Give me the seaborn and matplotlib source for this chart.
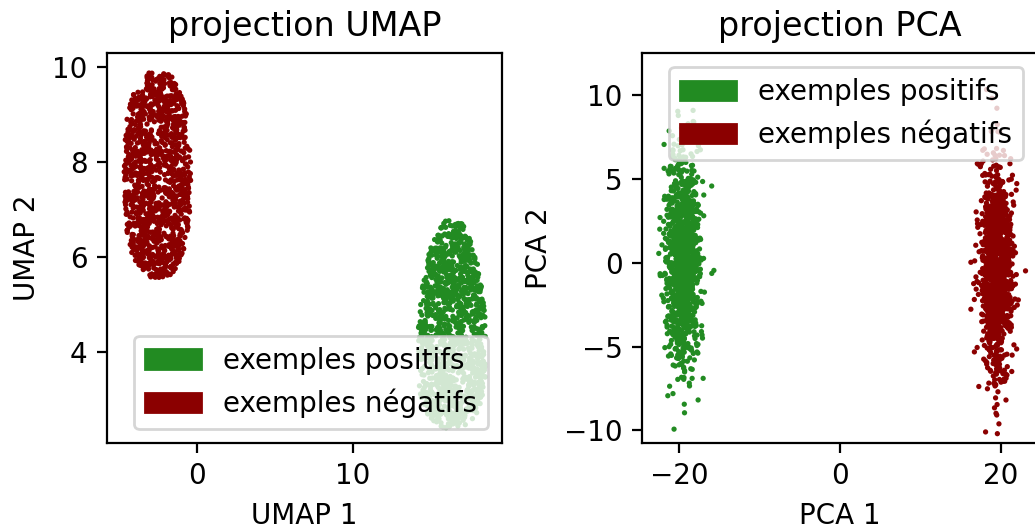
import numpy as np
import pandas as pd
import matplotlib
matplotlib.use("Agg")
import matplotlib.pyplot as plt
import matplotlib.patches as mpatches
import seaborn as sns

# Classes et couleurs
classes = ["exemples positifs", "exemples négatifs"]
couleurs = ["forestgreen", "darkred"]
n_points = [1200, 1200]

# Nuages UMAP : centre, demi-largeur, demi-hauteur, rétrécissement en haut
umap_centre_x = [16.35, -2.55]
umap_centre_y = [4.6, 7.72]
umap_demi_x = [2.15, 2.15]
umap_demi_y = [2.2, 2.2]
umap_retrecissement = [0.25, 0.0]

# Nuages PCA : moyenne et écart-type
pca_moy_x = [-19.6, 19.5]
pca_moy_y = [0.2, -0.3]
pca_sd_x = [1.0, 1.0]
pca_sd_y = [3.1, 3.0]

# Limites des axes
umap_xlim = (-5.77, 19.55)
umap_ylim = (2.09, 10.29)
pca_xlim = (-24.65, 24.5)
pca_ylim = (-10.76, 12.53)

rng = np.random.default_rng(7)


def nuage_umap(cx, cy, ax_, ay_, taper, n):
    pts = []
    while len(pts) < n:
        u = rng.uniform(-1, 1, 4 * n)
        v = rng.uniform(-1, 1, 4 * n)
        w = (1 - np.abs(v) ** 2.4).clip(0) ** (1 / 2.4) * (1 - taper * v)
        ok = np.abs(u) <= w
        pts.extend(zip(u[ok] * ax_ + cx, v[ok] * ay_ + cy))
    pts = np.array(pts[:n])
    return pts[:, 0], pts[:, 1]


lignes_umap = []
lignes_pca = []
for i, c in enumerate(classes):
    x, y = nuage_umap(umap_centre_x[i], umap_centre_y[i], umap_demi_x[i],
                      umap_demi_y[i], umap_retrecissement[i], n_points[i])
    lignes_umap.append(pd.DataFrame({"x": x, "y": y, "classe": c}))
    px = rng.normal(pca_moy_x[i], pca_sd_x[i], n_points[i])
    py = rng.normal(pca_moy_y[i], pca_sd_y[i], n_points[i])
    lignes_pca.append(pd.DataFrame({"x": px, "y": py, "classe": c}))
df_umap = pd.concat(lignes_umap)
df_pca = pd.concat(lignes_pca)

dpi = 200
fig = plt.figure(figsize=(1035 / dpi, 531 / dpi), dpi=dpi)
ax1 = fig.add_axes([0.1034, 0.1657, 0.3816, 0.7345])
ax2 = fig.add_axes([0.6203, 0.1657, 0.3816, 0.7345])

palette = dict(zip(classes, couleurs))
handles = [mpatches.Patch(color=col, label=c) for c, col in zip(classes, couleurs)]

sns.scatterplot(data=df_umap, x="x", y="y", hue="classe", palette=palette,
                s=3.6, linewidth=0, legend=False, ax=ax1)
ax1.set_xlim(umap_xlim)
ax1.set_ylim(umap_ylim)
ax1.set_title("projection UMAP")
ax1.set_xlabel("UMAP 1")
ax1.set_ylabel("UMAP 2")
ax1.legend(handles=handles, loc="lower right")

sns.scatterplot(data=df_pca, x="x", y="y", hue="classe", palette=palette,
                s=3.6, linewidth=0, legend=False, ax=ax2)
ax2.set_xlim(pca_xlim)
ax2.set_ylim(pca_ylim)
ax2.set_title("projection PCA")
ax2.set_xlabel("PCA 1")
ax2.set_ylabel("PCA 2")
ax2.legend(handles=handles, loc="upper right")

fig.savefig("out.png", dpi=dpi)
